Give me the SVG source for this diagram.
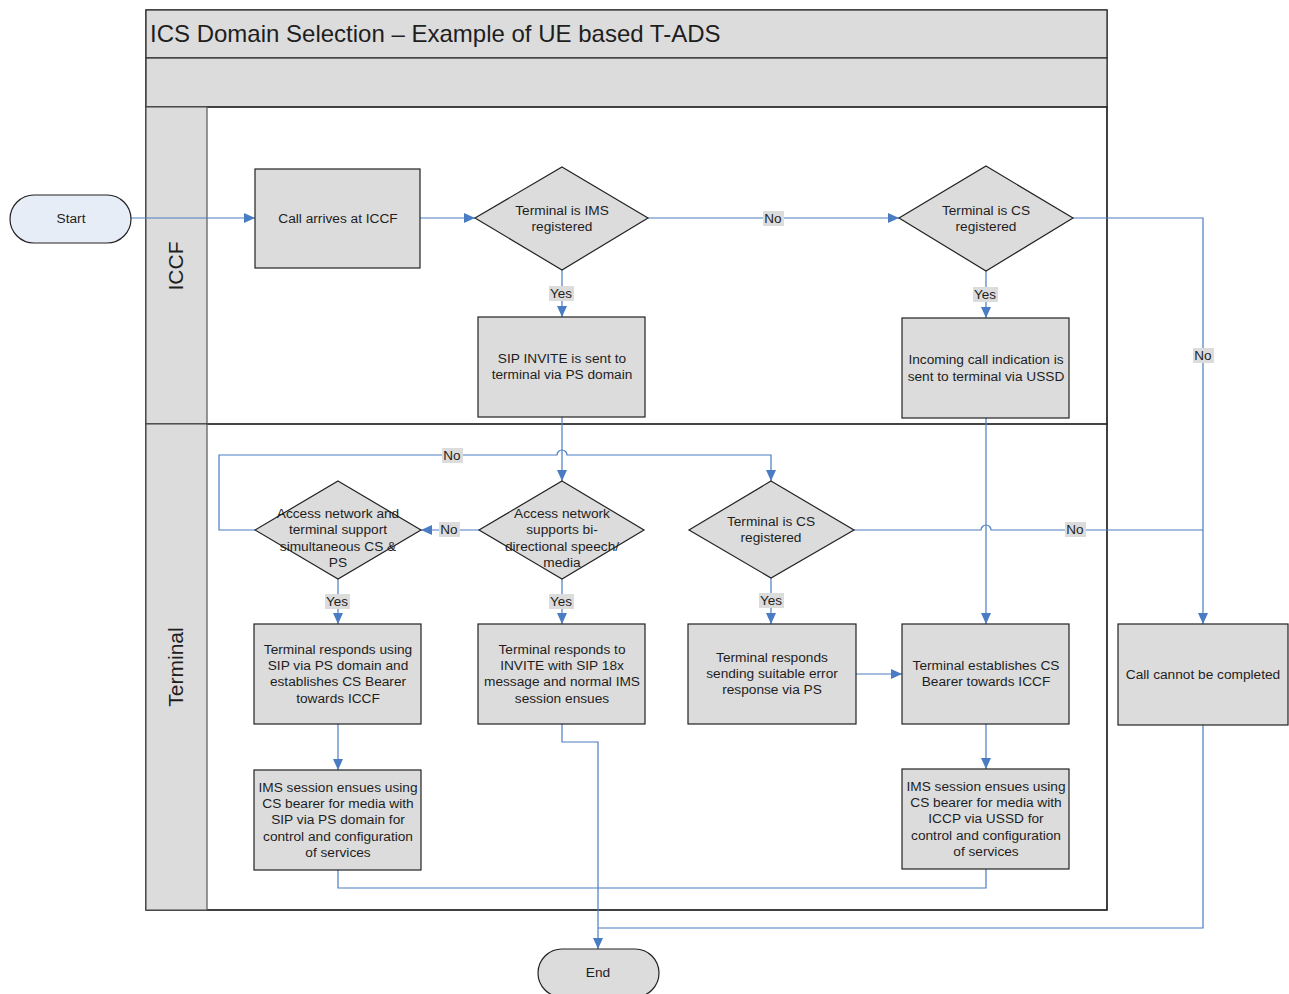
<svg xmlns="http://www.w3.org/2000/svg" width="1289" height="994" viewBox="0 0 1289 994">
  <style>
    text { font-family: "Liberation Sans", Arial, sans-serif; fill: #1e1e1e; }
    .t { font-size: 13.7px; text-anchor: middle; }
    .l { font-size: 13.5px; text-anchor: middle; }
    .lane { font-size: 21px; text-anchor: middle; }
    .title { font-size: 24px; }
    .box { fill: #dcdcdc; stroke: #222; stroke-width: 1.2; }
    .band { fill: #dcdcdc; stroke: #333; stroke-width: 1.3; }
    .conn { fill: none; stroke: #4a7cc4; stroke-width: 1.2; }
    .lbl { fill: #dcdcdc; stroke: none; }
  </style>
  <defs>
    <marker id="arrow" markerUnits="userSpaceOnUse" markerWidth="12" markerHeight="11" refX="11" refY="5" orient="auto">
      <path d="M0,0 L11,5 L0,10 z" fill="#4a7cc4"/>
    </marker>
  </defs>

  <rect width="1289" height="994" fill="#ffffff"/>

  <!-- Pool with title bands and two swimlanes -->
  <g id="pool">
    <rect x="146" y="10" width="961" height="900" fill="#ffffff" stroke="#222" stroke-width="1.3"/>
    <rect class="band" x="146" y="10" width="961" height="48"/>
    <rect class="band" x="146" y="58" width="961" height="49"/>
    <text class="title" x="150" y="42">ICS Domain Selection – Example of UE based T-ADS</text>
  </g>
  <g id="lane-iccf">
    <rect x="146" y="107" width="961" height="317" fill="none" stroke="#222" stroke-width="1.2"/>
    <rect x="146" y="107" width="61" height="317" fill="#dcdcdc" stroke="#555" stroke-width="1.2"/>
    <text class="lane" transform="translate(183,266) rotate(-90)">ICCF</text>
  </g>
  <g id="lane-terminal">
    <rect x="146" y="424" width="961" height="486" fill="none" stroke="#222" stroke-width="1.2"/>
    <rect x="146" y="424" width="61" height="486" fill="#dcdcdc" stroke="#555" stroke-width="1.2"/>
    <text class="lane" transform="translate(183,667) rotate(-90)">Terminal</text>
  </g>

  <!-- Connectors -->
  <g id="connectors">
    <path class="conn" d="M131,218 H255" marker-end="url(#arrow)"/>
    <path class="conn" d="M420,218 H475" marker-end="url(#arrow)"/>
    <path class="conn" d="M648,218 H899" marker-end="url(#arrow)"/>
    <path class="conn" d="M562,270 V317" marker-end="url(#arrow)"/>
    <path class="conn" d="M986,271 V318" marker-end="url(#arrow)"/>
    <path class="conn" d="M1073,218 H1203 V624" marker-end="url(#arrow)"/>
    <path class="conn" d="M562,417 V481" marker-end="url(#arrow)"/>
    <path class="conn" d="M479,530 H421" marker-end="url(#arrow)"/>
    <path class="conn" d="M255,530 H219 V455 H557 a5,5 0 0 1 10,0 H771 V481" marker-end="url(#arrow)"/>
    <path class="conn" d="M854,530 H981 a5,5 0 0 1 10,0 H1203"/>
    <path class="conn" d="M986,418 V624" marker-end="url(#arrow)"/>
    <path class="conn" d="M338,579 V624" marker-end="url(#arrow)"/>
    <path class="conn" d="M562,579 V624" marker-end="url(#arrow)"/>
    <path class="conn" d="M771,578 V624" marker-end="url(#arrow)"/>
    <path class="conn" d="M856,674 H902" marker-end="url(#arrow)"/>
    <path class="conn" d="M338,724 V770" marker-end="url(#arrow)"/>
    <path class="conn" d="M986,724 V769" marker-end="url(#arrow)"/>
    <path class="conn" d="M562,724 V742 H598 V949" marker-end="url(#arrow)"/>
    <path class="conn" d="M338,870 V888 H986 V869"/>
    <path class="conn" d="M1203,725 V928 H598"/>

    <!-- branch labels -->
    <rect class="lbl" x="763" y="211" width="21" height="15"/>
    <text class="l" x="773" y="223">No</text>
    <rect class="lbl" x="549" y="286" width="25" height="15"/>
    <text class="l" x="561" y="298">Yes</text>
    <rect class="lbl" x="973" y="287" width="25" height="15"/>
    <text class="l" x="985" y="299">Yes</text>
    <rect class="lbl" x="1193" y="348" width="21" height="15"/>
    <text class="l" x="1203" y="360">No</text>
    <rect class="lbl" x="442" y="448" width="21" height="15"/>
    <text class="l" x="452" y="460">No</text>
    <rect class="lbl" x="439" y="522" width="21" height="15"/>
    <text class="l" x="449" y="534">No</text>
    <rect class="lbl" x="1065" y="522" width="21" height="15"/>
    <text class="l" x="1075" y="534">No</text>
    <rect class="lbl" x="325" y="594" width="25" height="15"/>
    <text class="l" x="337" y="606">Yes</text>
    <rect class="lbl" x="549" y="594" width="25" height="15"/>
    <text class="l" x="561" y="606">Yes</text>
    <rect class="lbl" x="759" y="593" width="25" height="15"/>
    <text class="l" x="771" y="605">Yes</text>
  </g>

  <!-- Nodes -->
  <g id="start">
    <rect x="10" y="195" width="121" height="48" rx="24" ry="24" fill="#e6edf7" stroke="#222" stroke-width="1.2"/>
    <text class="t" x="71" y="223">Start</text>
  </g>
  <g id="end">
    <rect x="538" y="949" width="121" height="48" rx="24" ry="24" fill="#dcdcdc" stroke="#222" stroke-width="1.2"/>
    <text class="t" x="598" y="977">End</text>
  </g>
  <g id="call-arrives">
    <rect class="box" x="255" y="169" width="165" height="99"/>
    <text class="t" x="338" y="223">Call arrives at ICCF</text>
  </g>
  <g id="ims-registered">
    <polygon class="box" points="562,167 648,218 562,270 475,218"/>
    <text class="t" x="562" y="215">Terminal is IMS</text>
    <text class="t" x="562" y="231">registered</text>
  </g>
  <g id="cs-registered-iccf">
    <polygon class="box" points="986,166 1073,218 986,271 899,218"/>
    <text class="t" x="986" y="215">Terminal is CS</text>
    <text class="t" x="986" y="231">registered</text>
  </g>
  <g id="sip-invite">
    <rect class="box" x="478" y="317" width="167" height="100"/>
    <text class="t" x="562" y="363">SIP INVITE is sent to</text>
    <text class="t" x="562" y="379">terminal via PS domain</text>
  </g>
  <g id="incoming-ussd">
    <rect class="box" x="902" y="318" width="167" height="100"/>
    <text class="t" x="986" y="364">Incoming call indication is</text>
    <text class="t" x="986" y="381">sent to terminal via USSD</text>
  </g>
  <g id="simultaneous-cs-ps">
    <polygon class="box" points="338,481 421,530 338,579 255,530"/>
    <text class="t" x="338" y="518">Access network and</text>
    <text class="t" x="338" y="534">terminal support</text>
    <text class="t" x="338" y="551">simultaneous CS &amp;</text>
    <text class="t" x="338" y="567">PS</text>
  </g>
  <g id="bidirectional-media">
    <polygon class="box" points="562,481 644,530 562,579 479,530"/>
    <text class="t" x="562" y="518">Access network</text>
    <text class="t" x="562" y="534">supports bi-</text>
    <text class="t" x="562" y="551">directional speech/</text>
    <text class="t" x="562" y="567">media</text>
  </g>
  <g id="cs-registered-terminal">
    <polygon class="box" points="771,481 854,530 771,578 689,530"/>
    <text class="t" x="771" y="526">Terminal is CS</text>
    <text class="t" x="771" y="542">registered</text>
  </g>
  <g id="responds-sip-cs-bearer">
    <rect class="box" x="254" y="624" width="167" height="100"/>
    <text class="t" x="338" y="654">Terminal responds using</text>
    <text class="t" x="338" y="670">SIP via PS domain and</text>
    <text class="t" x="338" y="686">establishes CS Bearer</text>
    <text class="t" x="338" y="703">towards ICCF</text>
  </g>
  <g id="responds-18x">
    <rect class="box" x="478" y="624" width="167" height="100"/>
    <text class="t" x="562" y="654">Terminal responds to</text>
    <text class="t" x="562" y="670">INVITE with SIP 18x</text>
    <text class="t" x="562" y="686">message and normal IMS</text>
    <text class="t" x="562" y="703">session ensues</text>
  </g>
  <g id="responds-error">
    <rect class="box" x="688" y="624" width="168" height="100"/>
    <text class="t" x="772" y="662">Terminal responds</text>
    <text class="t" x="772" y="678">sending suitable error</text>
    <text class="t" x="772" y="694">response via PS</text>
  </g>
  <g id="establishes-cs-bearer">
    <rect class="box" x="902" y="624" width="167" height="100"/>
    <text class="t" x="986" y="670">Terminal establishes CS</text>
    <text class="t" x="986" y="686">Bearer towards ICCF</text>
  </g>
  <g id="call-cannot-complete">
    <rect class="box" x="1118" y="624" width="170" height="101"/>
    <text class="t" x="1203" y="679">Call cannot be completed</text>
  </g>
  <g id="ims-session-sip">
    <rect class="box" x="254" y="770" width="167" height="100"/>
    <text class="t" x="338" y="792">IMS session ensues using</text>
    <text class="t" x="338" y="808">CS bearer for media with</text>
    <text class="t" x="338" y="824">SIP via PS domain for</text>
    <text class="t" x="338" y="841">control and configuration</text>
    <text class="t" x="338" y="857">of services</text>
  </g>
  <g id="ims-session-ussd">
    <rect class="box" x="902" y="769" width="167" height="100"/>
    <text class="t" x="986" y="791">IMS session ensues using</text>
    <text class="t" x="986" y="807">CS bearer for media with</text>
    <text class="t" x="986" y="823">ICCP via USSD for</text>
    <text class="t" x="986" y="840">control and configuration</text>
    <text class="t" x="986" y="856">of services</text>
  </g>
</svg>
